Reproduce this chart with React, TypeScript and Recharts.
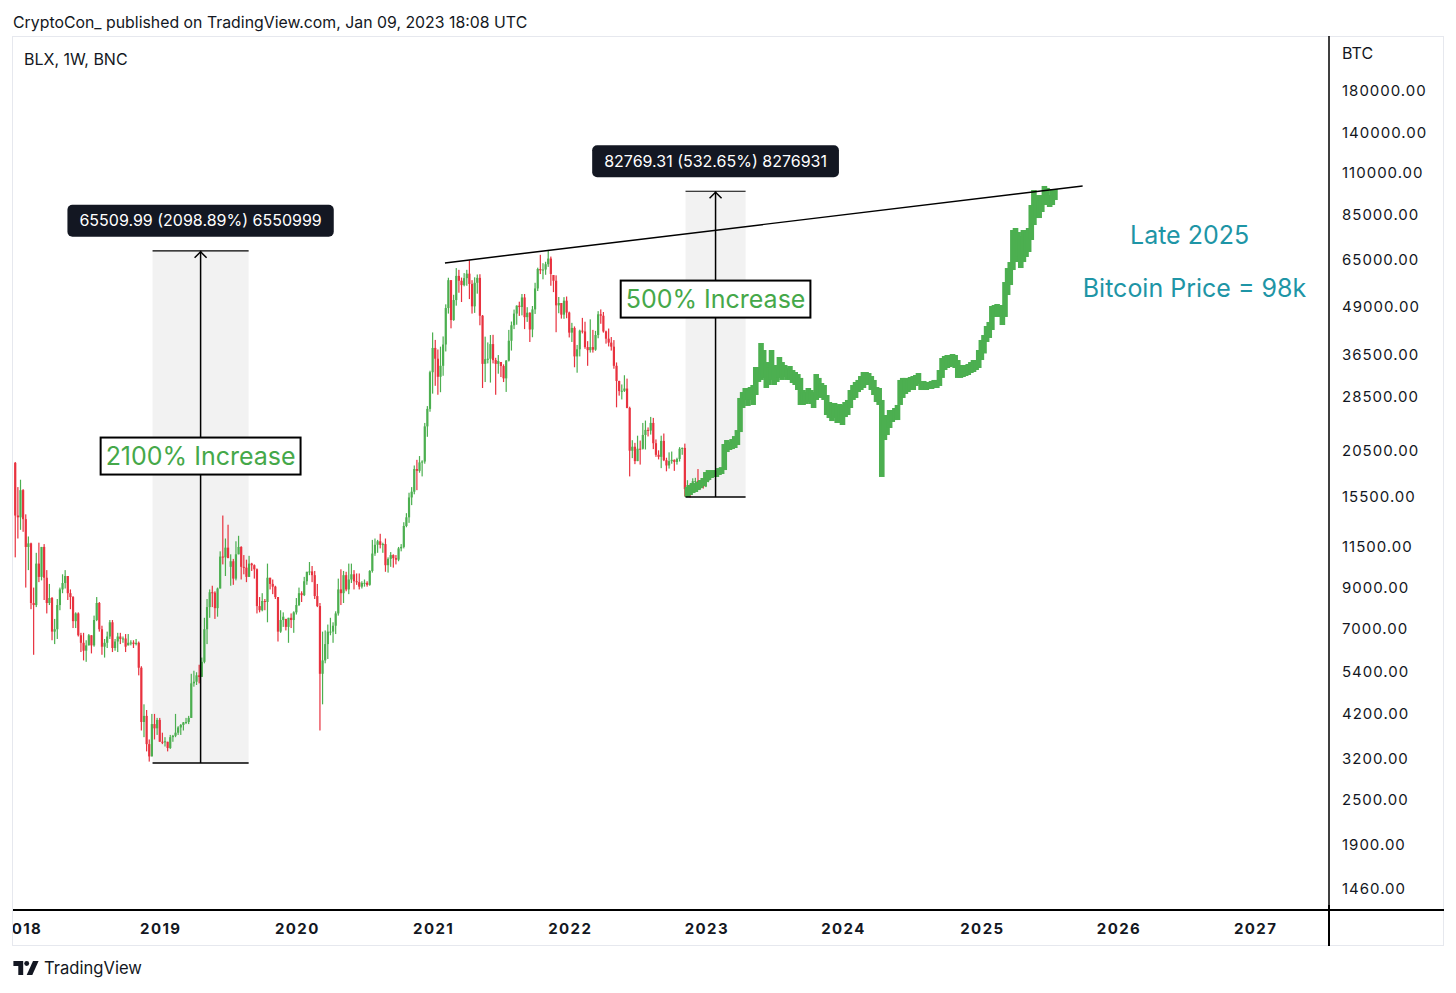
import React from "react";
import {
  ComposedChart,
  Bar,
  XAxis,
  YAxis,
  ReferenceArea,
  ReferenceLine,
  ReferenceDot,
} from "recharts";

// Weekly BLX candles (high / low / close), first bar = week of 2017-12-18
const histStart = "2017-12-18";
const histFirstOpen = 19100;
const histHigh = [
  19200, 16500, 17250, 16300, 14000, 12250, 11800, 9000, 11100, 11800,
  11500, 11700, 10000, 9200, 8500, 7450, 8400, 9000, 9750, 10000,
  9650, 8900, 8550, 7750, 7750, 6850, 6850, 6550, 6800, 6750,
  7600, 8500, 8250, 7150, 6600, 6900, 7400, 7400, 6600, 6850,
  6850, 6700, 6800, 6800, 6550, 6550, 6600, 6500, 5600, 4450,
  4300, 3600, 4200, 4200, 4100, 4100, 3750, 3650, 3550, 3700,
  3700, 4200, 3900, 3950, 4000, 4100, 4150, 5350, 5450, 5400,
  5650, 5900, 7500, 8400, 8900, 9100, 8800, 9000, 11200, 13900,
  12100, 13150, 11000, 10700, 11900, 12300, 11550, 10950, 10650, 10900,
  10450, 10350, 10100, 8500, 8700, 8400, 10400, 9550, 9450, 9100,
  8500, 7850, 7750, 7450, 7500, 7700, 7800, 8450, 9000, 8800,
  9600, 9900, 10500, 10250, 9950, 9200, 8200, 6900, 6950, 7200,
  7500, 7300, 7800, 9500, 10050, 9950, 9900, 10400, 10400, 10000,
  9800, 9800, 9350, 9450, 9350, 10000, 12000, 12100, 12000, 12450,
  11800, 12100, 10800, 11150, 11000, 10950, 11500, 11700, 13350, 14100,
  15950, 16500, 18800, 19450, 19900, 19400, 24300, 26900, 33300, 41950,
  40100, 37850, 38500, 40950, 49700, 58350, 57550, 52650, 61850, 61200,
  58400, 60000, 61200, 64850, 57500, 58500, 59500, 59600, 46600, 40900,
  39500, 41300, 41350, 36000, 36600, 35100, 34600, 35500, 42600, 44800,
  48150, 49400, 50500, 52900, 52900, 48850, 47350, 49200, 56600, 62000,
  67000, 63700, 64250, 69000, 66300, 59300, 59200, 51950, 50100, 51900,
  52100, 47550, 44450, 43500, 38900, 42650, 45800, 44750, 39800, 45400,
  42600, 42350, 47700, 48200, 47450, 42400, 42950, 40800, 40050, 35000,
  31350, 30650, 32400, 31750, 26800, 21900, 21550, 22500, 21850, 24300,
  24650, 23650, 25200, 25050, 22000, 20600, 22500, 22800, 19700, 20350,
  20450, 19500, 19700, 21000, 20950, 21450, 17200, 16850, 17400, 17450,
  18400, 17050, 16950, 17200, 17400,
];
const histLow = [
  10800, 12100, 12750, 12600, 9000, 10000, 7900, 6000, 8000, 9300,
  9400, 8350, 7700, 8100, 6550, 6400, 6600, 7850, 8700, 8950,
  8350, 7900, 7050, 7050, 6700, 6100, 5800, 5750, 6350, 6050,
  6300, 7350, 6900, 6000, 5900, 6250, 6600, 6100, 6150, 6100,
  6400, 6450, 6100, 6350, 6350, 6250, 6350, 5300, 3800, 3650,
  3350, 3150, 3250, 3600, 3700, 3550, 3500, 3450, 3350, 3400,
  3550, 3650, 3700, 3700, 3800, 3950, 3950, 4100, 4950, 5000,
  5050, 5250, 5700, 6400, 7500, 8000, 7450, 7550, 8950, 10350,
  9650, 10750, 9100, 9150, 9400, 11000, 9450, 9750, 9300, 9600,
  9950, 9500, 7700, 7750, 7800, 7850, 7300, 8900, 8650, 8400,
  6500, 6850, 7100, 6950, 6450, 7050, 6850, 7650, 8050, 8250,
  8550, 9150, 9700, 9300, 8400, 8000, 3800, 4450, 5700, 5850,
  6750, 6450, 6800, 7600, 8100, 8200, 8800, 8650, 9250, 8900,
  9150, 8900, 8950, 9050, 9050, 9100, 9850, 10900, 11100, 11400,
  11100, 9900, 9850, 10200, 10150, 10350, 10550, 11200, 11400, 12950,
  13300, 14800, 15800, 16200, 18000, 17600, 19000, 22350, 26000, 29000,
  30400, 28800, 29250, 32300, 37400, 47000, 43000, 45000, 49300, 53300,
  50400, 55400, 55600, 51300, 47000, 47200, 53000, 43800, 30000, 31100,
  34800, 31000, 34800, 28800, 32700, 32050, 31100, 29300, 35200, 37600,
  42800, 43950, 46350, 46500, 42800, 44700, 39600, 40750, 46900, 53850,
  59650, 57800, 59400, 62300, 55600, 53500, 42000, 47100, 45600, 45550,
  45700, 40700, 39600, 34000, 32900, 36300, 41700, 38000, 34300, 37150,
  37150, 37550, 40500, 44200, 41900, 39200, 38550, 37600, 33700, 26700,
  28650, 28000, 29300, 26550, 17600, 19650, 18950, 19300, 18900, 20700,
  20700, 22400, 22650, 20750, 19800, 19500, 18500, 19300, 18150, 18450,
  19000, 18200, 18900, 19250, 20050, 15600, 15800, 15500, 16000, 16700,
  16550, 16300, 16350, 16500, 17000,
];
const histClose = [
  13900, 13750, 16200, 13600, 11500, 11750, 8200, 8100, 10400, 9600,
  11500, 9550, 8200, 8450, 6900, 7000, 8100, 8900, 9250, 9650,
  8700, 8500, 7350, 7700, 6750, 6450, 6150, 6350, 6750, 6350,
  7400, 8200, 7000, 6300, 6450, 6700, 7300, 6250, 6500, 6700,
  6600, 6620, 6300, 6450, 6460, 6400, 6450, 5550, 4000, 4150,
  3500, 3250, 3950, 3850, 4050, 3550, 3540, 3560, 3420, 3650,
  3680, 3750, 3870, 3930, 3990, 4000, 4100, 5050, 5100, 5300,
  5250, 5750, 7000, 8000, 8750, 8730, 7950, 8950, 10850, 10800,
  11450, 10200, 10550, 9500, 11000, 11500, 10200, 10150, 9600, 10400,
  10300, 10050, 8050, 7850, 8300, 8250, 9550, 9200, 9050, 8500,
  6900, 7400, 7550, 7100, 7500, 7400, 7750, 8100, 8700, 8600,
  9350, 9900, 9920, 9700, 8550, 8050, 5350, 5800, 6400, 6900,
  6900, 7150, 7700, 8900, 8700, 9700, 8900, 9450, 9750, 9350,
  9300, 9050, 9250, 9260, 9150, 9950, 11050, 11650, 11900, 11650,
  11700, 10300, 10700, 10950, 10750, 10650, 11400, 11500, 13050, 13750,
  15500, 16050, 18400, 18200, 19150, 19250, 23800, 26450, 33000, 38200,
  35800, 32100, 34300, 39000, 48600, 57500, 45200, 51000, 59000, 57300,
  55800, 58200, 59800, 56200, 49100, 56600, 58300, 46400, 34700, 35700,
  35800, 39100, 35500, 34700, 35300, 34250, 31800, 35400, 39900, 43800,
  47000, 49300, 48900, 51800, 46000, 47250, 42700, 48200, 54700, 61500,
  61000, 61300, 63300, 65500, 59700, 57300, 49400, 50100, 46700, 50800,
  47300, 41900, 43100, 36300, 37900, 42400, 42200, 38400, 37700, 38400,
  37800, 41300, 46800, 46400, 42200, 40400, 39450, 38500, 34300, 31300,
  29450, 29500, 29900, 26600, 20550, 21050, 19300, 20800, 20790, 22600,
  23300, 23200, 24300, 21500, 20050, 19800, 21800, 19400, 18800, 19300,
  19450, 19200, 19550, 20800, 20900, 16300, 16700, 16450, 17100, 17110,
  16800, 16850, 16550, 17150, 17250,
];

// Projected path (thick ghost bars), first bar = week of 2022-11-14
const projStart = "2022-11-14";
const projHigh = [
  16510, 16710, 16910, 16810, 17010, 17220, 17430, 18070, 18290, 18070,
  18290, 18180, 18510, 18620, 21400, 21920, 21660, 22050, 22450, 23280,
  28250, 29280, 30000, 29640, 30180, 30550, 34050, 34050, 39360, 37730,
  35090, 33850, 37730, 34470, 33850, 36170, 35090, 34470, 33850, 34260,
  33440, 33040, 32640, 31880, 29640, 29280, 30000, 29640, 29280, 32640,
  31880, 30920, 30550, 28760, 27570, 27240, 27410, 26920, 27240, 27080,
  27570, 27910, 29640, 30550, 31110, 31490, 32250, 33040, 33040, 32840,
  32250, 31490, 30180, 30000, 27910, 25490, 25490, 26270, 26270, 26590,
  27080, 31490, 31880, 31880, 31490, 32060, 32250, 32450, 32840, 31110,
  31300, 31110, 31110, 31300, 31490, 31490, 33440, 35950, 36390, 36610,
  36170, 36830, 36610, 35520, 34470, 34260, 34470, 34680, 35090, 35520,
  35520, 37730, 40080, 41300, 43610, 44680, 49200, 49500, 49800, 49200,
  49500, 56860, 61870, 64150, 77820, 78770, 76880, 75040, 77820, 76880,
  78770, 90480, 99050, 96100, 93250, 96100, 101500, 100300, 96100, 99650,
  99650,
];
const projLow = [
  15540, 15730, 15920, 16020, 16210, 16410, 16610, 17010, 17220, 17430,
  17540, 17540, 17750, 17860, 18290, 20390, 20640, 20760, 20890, 21270,
  23000, 26590, 27910, 26920, 27910, 27080, 28760, 31110, 31490, 31880,
  30000, 30550, 31490, 30550, 31110, 31880, 31490, 32060, 31490, 31490,
  30920, 30550, 29640, 27080, 27080, 27240, 27570, 27240, 26590, 27910,
  28760, 28250, 27910, 25490, 25030, 24580, 25030, 24290, 24730, 24000,
  25180, 25490, 26590, 27910, 28250, 29280, 29640, 30000, 30740, 30550,
  29640, 28760, 27570, 27080, 17540, 21920, 22590, 23570, 24440, 24730,
  24730, 27080, 28250, 28940, 29280, 29640, 29640, 30370, 30740, 29640,
  29640, 29640, 29820, 29820, 30000, 30000, 30370, 31880, 33440, 33850,
  34050, 34260, 33850, 31880, 31880, 32060, 32250, 32450, 32840, 33040,
  33440, 33850, 35520, 36950, 39600, 40570, 42570, 46050, 46600, 46050,
  43870, 46050, 52570, 55840, 61130, 64150, 66130, 61870, 64150, 66130,
  68150, 73270, 80200, 83650, 83650, 86750, 90480, 93250, 89400, 90480,
  93250,
];

// first weekly bar of each year, where the time scale puts its labels
const yearTicks = [
  "2018-01-01", "2019-01-07", "2020-01-06", "2021-01-04", "2022-01-03",
  "2023-01-02", "2024-01-01", "2025-01-06", "2026-01-05", "2027-01-04",
];
const priceTicks = [
  180000, 140000, 110000, 85000, 65000, 49000, 36500, 28500, 20500, 15500,
  11500, 9000, 7000, 5400, 4200, 3200, 2500, 1900, 1460,
];

// date & price range tool readings
const measureFrom = ["2018-12-18", "2022-11-08"];
const measureTo = ["2019-08-31", "2023-04-17"];
const measureLow = [3121.2, 15539];
const measureHigh = [68631.2, 98308];
const measureText = ["65509.99 (2098.89%) 6550999", "82769.31 (532.65%) 8276931"];
const increaseText = ["2100% Increase", "500% Increase"];
const increasePrice = [19900, 51300];

// resistance line drawn across the two tops
const trendFrom = { date: "2021-02-05", price: 63800 };
const trendTo = { date: "2025-10-02", price: 101500 };

const noteLines = ["Late 2025", "Bitcoin Price = 98k"];
const noteDates = ["2026-07-14", "2026-07-27"];
const notePrices = [75500, 54850];

const UP = "#4CAF50";
const DOWN = "#E8323F";
const GHOST = "#4CAF50";
const INK = "#131722";
const TEAL = "#1E95A6";
const FONT = "Inter, 'Noto Sans', sans-serif";

const DAY = 86400000;

function toYear(date: string) {
  const d = Date.parse(date + "T00:00:00Z");
  const y = new Date(d).getUTCFullYear();
  const a = Date.UTC(y, 0, 1);
  const b = Date.UTC(y + 1, 0, 1);
  return y + (d - a) / (b - a);
}

function weekDate(start: string, i: number) {
  return new Date(Date.parse(start + "T00:00:00Z") + i * 7 * DAY).toISOString().slice(0, 10);
}

const projOffset = Math.round(
  (Date.parse(projStart) - Date.parse(histStart)) / (7 * DAY)
);
const weekCount = Math.max(histHigh.length, projOffset + projHigh.length);

const rows = Array.from({ length: weekCount }, (_, i) => {
  const row: any = { t: toYear(weekDate(histStart, i)) };
  if (i < histHigh.length) {
    row.hist = [histLow[i], histHigh[i]];
    row.open = i === 0 ? histFirstOpen : histClose[i - 1];
    row.close = histClose[i];
  }
  const j = i - projOffset;
  if (j >= 0 && j < projHigh.length) row.proj = [projLow[j], projHigh[j]];
  return row;
});

let ctx: CanvasRenderingContext2D | null = null;
function textWidth(text: string, font: string) {
  if (!ctx) ctx = document.createElement("canvas").getContext("2d");
  if (!ctx) return text.length * 8;
  ctx.font = font;
  return ctx.measureText(text).width;
}

function Candle(props: any) {
  const { x, y, width, height, payload } = props;
  if (!payload || !payload.hist || !Number.isFinite(y) || !Number.isFinite(height)) return null;
  const [lo, hi] = payload.hist;
  const cx = x + width / 2;
  const color = payload.close >= payload.open ? UP : DOWN;
  const span = Math.log(hi) - Math.log(lo) || 1;
  const py = (v: number) => {
    const c = Math.min(hi, Math.max(lo, v));
    return y + (height * (Math.log(hi) - Math.log(c))) / span;
  };
  const top = py(Math.max(payload.open, payload.close));
  const bot = py(Math.min(payload.open, payload.close));
  return (
    <g>
      <rect x={cx - 0.6} y={y} width={1.2} height={Math.max(height, 1)} fill={color} />
      <rect x={cx - 1.1} y={top} width={2.2} height={Math.max(bot - top, 1)} fill={color} />
    </g>
  );
}

function GhostBar(props: any) {
  const { x, y, width, height, payload } = props;
  if (!payload || !payload.proj || !Number.isFinite(y) || !Number.isFinite(height)) return null;
  const cx = x + width / 2;
  return <rect x={cx - 2.8} y={y} width={5.6} height={Math.max(height, 2)} fill={GHOST} />;
}

function PriceTick(props: any) {
  const { x, y, payload } = props;
  return (
    <text
      x={x + 13}
      y={y + 5}
      textAnchor="start"
      fontSize={15}
      fill={INK}
      fontFamily={FONT}
      style={{ letterSpacing: "1px" }}
    >
      {payload.value.toFixed(2)}
    </text>
  );
}

function YearTick(props: any) {
  const { x, y, payload } = props;
  return (
    <g>
      <clipPath id="year-clip">
        <rect x={13} y={y} width={1316} height={36} />
      </clipPath>
      <text
        x={x + 0.7}
        y={y + 24}
        textAnchor="middle"
        fontSize={15}
        fontWeight={700}
        fill={INK}
        fontFamily={FONT}
        style={{ letterSpacing: "1.4px" }}
        clipPath="url(#year-clip)"
      >
        {Math.floor(payload.value)}
      </text>
    </g>
  );
}

function MeasureArrow(props: any) {
  const { x1, y1, x2, y2 } = props;
  const top = Math.min(y1, y2);
  return (
    <g stroke="#000" strokeWidth={1.5} fill="none">
      <line x1={x1} y1={y1} x2={x2} y2={y2} />
      <polyline points={`${x1 - 6},${top + 7} ${x1},${top + 1} ${x1 + 6},${top + 7}`} />
    </g>
  );
}

function RangeTag(props: any) {
  const { cx, cy, text } = props;
  const w = textWidth(text, `16px ${FONT}`) + 24;
  return (
    <g>
      <rect x={cx - w / 2} y={cy - 46} width={w} height={32} rx={5} fill="#131722" />
      <text x={cx} y={cy - 24.5} textAnchor="middle" fontSize={16} fill="#fff" fontFamily={FONT}>
        {text}
      </text>
    </g>
  );
}

function IncreaseBox(props: any) {
  const { cx, cy, text } = props;
  const w = textWidth(text, `25px ${FONT}`) + 10;
  return (
    <g>
      <rect x={cx - w / 2} y={cy - 18.5} width={w} height={37} fill="#fff" stroke="#000" strokeWidth={2} />
      <text x={cx} y={cy + 9} textAnchor="middle" fontSize={25} fill="#45A849" fontFamily={FONT}>
        {text}
      </text>
    </g>
  );
}

function Note(props: any) {
  const { cx, cy, text } = props;
  return (
    <text x={cx} y={cy + 9} textAnchor="middle" fontSize={25} fill={TEAL} fontFamily={FONT}>
      {text}
    </text>
  );
}

function TvLogo() {
  return (
    <svg width={26} height={14} viewBox="0 0 36 20" style={{ position: "absolute", left: 13, top: 961 }}>
      <path d="M0 0h14v20H7V7H0z" fill={INK} />
      <circle cx={19} cy={3.5} r={3.5} fill={INK} />
      <path d="M28 0h8l-9 20h-8z" fill={INK} />
    </svg>
  );
}

export default function App() {
  return (
    <div
      style={{
        position: "relative",
        width: 1456,
        height: 993,
        background: "#fff",
        fontFamily: FONT,
        color: INK,
        overflow: "hidden",
      }}
    >
      <style>{"body{margin:0}"}</style>
      <div style={{ position: "absolute", left: 13, top: 13, fontSize: 15.85, lineHeight: "20px" }}>
        CryptoCon_ published on TradingView.com, Jan 09, 2023 18:08 UTC
      </div>
      <div
        style={{
          position: "absolute",
          left: 12,
          top: 36,
          width: 1432,
          height: 910,
          border: "1px solid #e6e8ee",
          boxSizing: "border-box",
        }}
      />
      <div style={{ position: "absolute", left: 24, top: 49, fontSize: 16, lineHeight: "20px" }}>
        BLX, 1W, BNC
      </div>
      <div style={{ position: "absolute", left: 1342, top: 43, fontSize: 16, lineHeight: "20px" }}>
        BTC
      </div>
      <div style={{ position: "absolute", left: 1328, top: 905, width: 1.5, height: 41, background: "#000" }} />
      <div style={{ position: "absolute", left: 1329, top: 909, width: 115, height: 2, background: "#000" }} />

      <ComposedChart
        width={1456}
        height={993}
        data={rows}
        margin={{ top: 36, right: 12, bottom: 47, left: 13 }}
        style={{ position: "absolute", left: 0, top: 0 }}
      >
        <XAxis
          dataKey="t"
          type="number"
          domain={[2017.943, 2027.549]}
          allowDataOverflow
          ticks={yearTicks.map(toYear)}
          interval={0}
          height={36}
          tickLine={false}
          tickSize={0}
          tickMargin={0}
          axisLine={{ stroke: "#000", strokeWidth: 2 }}
          tick={<YearTick />}
        />
        <XAxis xAxisId="p" dataKey="t" type="number" domain={[2017.943, 2027.549]} allowDataOverflow hide />
        <YAxis
          orientation="right"
          scale="log"
          domain={[1286.7, 250834]}
          allowDataOverflow
          ticks={priceTicks}
          interval={0}
          width={115}
          tickLine={false}
          tickSize={0}
          tickMargin={0}
          axisLine={{ stroke: "#000", strokeWidth: 1.5 }}
          tick={<PriceTick />}
        />
        {measureFrom.map((d, k) => (
          <ReferenceArea
            key={"ma" + k}
            x1={toYear(d)}
            x2={toYear(measureTo[k])}
            y1={measureLow[k]}
            y2={measureHigh[k]}
            fill="#f2f2f2"
            fillOpacity={1}
            stroke="none"
          />
        ))}
        <Bar dataKey="hist" barSize={2} shape={<Candle />} isAnimationActive={false} />
        <Bar dataKey="proj" xAxisId="p" barSize={2} shape={<GhostBar />} isAnimationActive={false} />
        {measureFrom.map((d, k) => (
          <ReferenceLine
            key={"mb" + k}
            segment={[
              { x: toYear(d), y: measureLow[k] },
              { x: toYear(measureTo[k]), y: measureLow[k] },
            ]}
            stroke="#000"
            strokeWidth={1.5}
          />
        ))}
        {measureFrom.map((d, k) => (
          <ReferenceLine
            key={"mt" + k}
            segment={[
              { x: toYear(d), y: measureHigh[k] },
              { x: toYear(measureTo[k]), y: measureHigh[k] },
            ]}
            stroke="#000"
            strokeWidth={1.2}
          />
        ))}
        {measureFrom.map((d, k) => {
          const mid = (toYear(d) + toYear(measureTo[k])) / 2;
          return (
            <ReferenceLine
              key={"mv" + k}
              segment={[
                { x: mid, y: measureLow[k] },
                { x: mid, y: measureHigh[k] },
              ]}
              shape={(p: any) => <MeasureArrow {...p} />}
            />
          );
        })}
        <ReferenceLine
          segment={[
            { x: toYear(trendFrom.date), y: trendFrom.price },
            { x: toYear(trendTo.date), y: trendTo.price },
          ]}
          stroke="#000"
          strokeWidth={1.4}
        />
        {measureFrom.map((d, k) => {
          const mid = (toYear(d) + toYear(measureTo[k])) / 2;
          return (
            <ReferenceDot
              key={"mtag" + k}
              x={mid}
              y={measureHigh[k]}
              shape={(p: any) => <RangeTag {...p} text={measureText[k]} />}
            />
          );
        })}
        {measureFrom.map((d, k) => {
          const mid = (toYear(d) + toYear(measureTo[k])) / 2;
          return (
            <ReferenceDot
              key={"inc" + k}
              x={mid}
              y={increasePrice[k]}
              shape={(p: any) => <IncreaseBox {...p} text={increaseText[k]} />}
            />
          );
        })}
        {noteLines.map((line, k) => (
          <ReferenceDot
            key={"note" + k}
            x={toYear(noteDates[k])}
            y={notePrices[k]}
            shape={(p: any) => <Note {...p} text={line} />}
          />
        ))}
      </ComposedChart>

      <TvLogo />
      <div style={{ position: "absolute", left: 44, top: 957, fontSize: 16.6, lineHeight: "22px" }}>
        TradingView
      </div>
    </div>
  );
}
